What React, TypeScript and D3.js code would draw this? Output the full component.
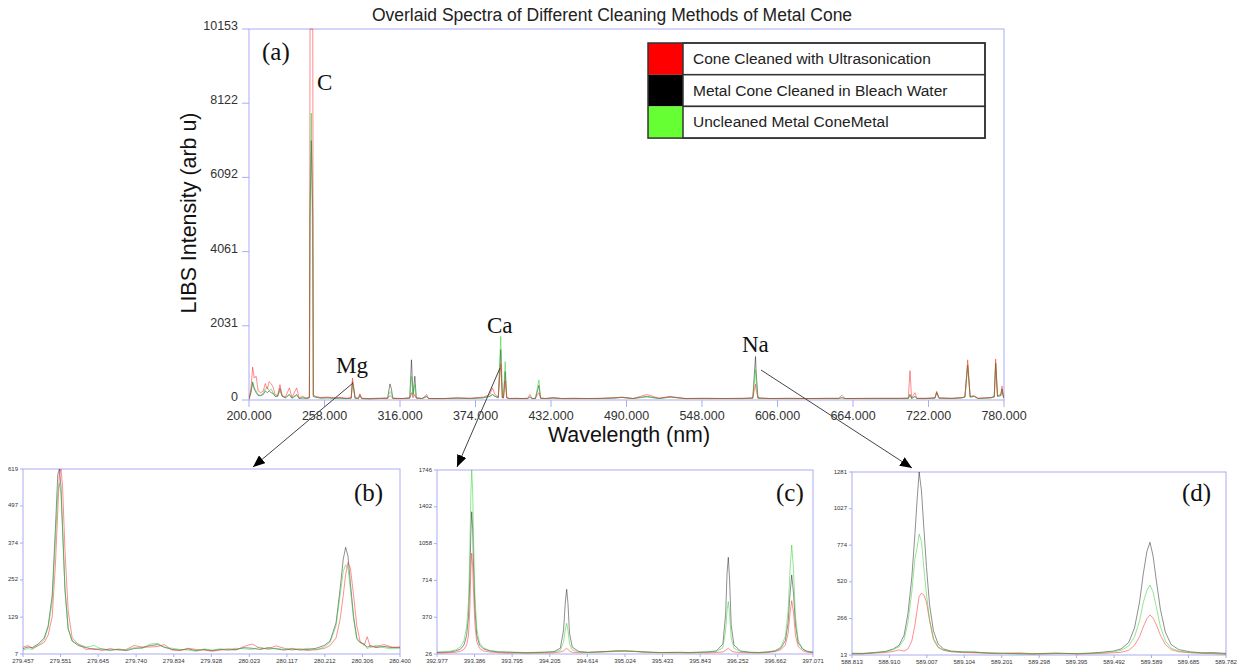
import React from "react";
import * as d3 from "d3";

const W = 1239;
const H = 667;

// ---------- Main spectrum (a) ----------
const mainWavelength = [
  200, 201.5, 202.8, 204, 205.5, 207, 209, 211, 212.5, 214, 215.5, 217, 218.5, 220, 222, 223.8, 225.5, 228, 231, 233,
  236.6, 238.5, 241, 244, 246.4, 246.9, 247.9, 249.0, 249.4, 251, 255, 260, 265, 270, 275, 278.5, 279.5, 280.3, 281.5, 284,
  285.2, 286.5, 292, 300, 306.5, 308.3, 309.3, 310.5, 318, 323.5, 324.8, 326, 327.4, 328.5, 333, 336.5, 338, 350, 360, 370,
  380, 385, 387, 389, 391.5, 393.4, 394.6, 395.5, 396.8, 398, 400, 405, 410, 414, 415.8, 417.5, 420, 422.7, 424, 428,
  433.5, 440, 450, 460, 470, 480, 486.5, 495, 505.6, 515, 523.4, 535, 550, 565, 580, 587, 589.1, 589.6, 591, 600,
  615, 630, 645, 653, 655.5, 658, 680, 700, 706.5, 707.8, 709, 711.6, 713, 720, 727, 728.3, 730, 740, 748, 750,
  752.1, 754, 757, 760, 765, 770, 772.5, 773.6, 775, 777.5, 778.5, 779.3, 780,
];
const mainUltrasonic = [
  30, 300, 900, 600, 650, 250, 200, 250, 450, 300, 500, 450, 350, 150, 120, 420, 120, 80, 330, 70,
  330, 60, 100, 60, 80, 10153, 10153, 10153, 150, 100, 70, 80, 60, 70, 50, 60, 600, 380, 60, 50,
  170, 50, 40, 50, 40, 120, 90, 40, 40, 50, 200, 60, 150, 50, 40, 150, 40, 40, 60, 50,
  80, 150, 330, 150, 80, 990, 70, 60, 520, 60, 40, 50, 40, 50, 150, 40, 50, 200, 50, 40,
  70, 40, 50, 40, 50, 60, 80, 40, 150, 50, 100, 40, 50, 40, 50, 60, 430, 270, 60, 40,
  50, 40, 50, 50, 130, 40, 50, 50, 60, 800, 60, 200, 50, 50, 60, 230, 60, 50, 70, 100,
  1100, 100, 120, 50, 60, 70, 100, 1120, 120, 150, 380, 150, 60,
];
const mainBleach = [
  20, 200, 480, 300, 200, 120, 120, 150, 250, 200, 250, 200, 180, 100, 100, 320, 100, 60, 150, 50,
  150, 40, 60, 40, 60, 5000, 7100, 5000, 100, 80, 50, 60, 50, 50, 40, 50, 500, 360, 50, 40,
  120, 40, 30, 40, 60, 440, 320, 50, 40, 60, 1100, 150, 650, 60, 40, 100, 40, 40, 50, 40,
  60, 100, 150, 100, 60, 1380, 60, 60, 780, 60, 40, 40, 40, 40, 80, 40, 40, 400, 50, 40,
  50, 40, 40, 40, 40, 50, 70, 40, 100, 40, 80, 40, 40, 40, 40, 50, 1190, 780, 50, 40,
  40, 40, 40, 40, 60, 40, 40, 40, 40, 150, 40, 100, 40, 40, 50, 200, 50, 40, 60, 80,
  950, 80, 100, 40, 50, 60, 80, 1000, 100, 120, 300, 120, 50,
];
const mainUncleaned = [
  20, 250, 500, 350, 250, 150, 130, 200, 300, 350, 250, 300, 200, 100, 100, 250, 100, 60, 150, 50,
  120, 40, 50, 40, 60, 5550, 7850, 3370, 100, 80, 60, 60, 50, 50, 40, 50, 450, 300, 50, 40,
  150, 40, 40, 40, 40, 230, 200, 40, 40, 50, 650, 100, 420, 50, 40, 80, 40, 40, 50, 40,
  60, 100, 150, 100, 60, 1740, 60, 60, 1050, 60, 40, 40, 40, 40, 80, 40, 40, 550, 50, 40,
  60, 40, 40, 40, 40, 60, 70, 40, 80, 40, 80, 40, 40, 40, 40, 50, 830, 500, 50, 40,
  40, 40, 40, 40, 70, 40, 40, 40, 40, 150, 40, 100, 40, 40, 60, 230, 50, 40, 60, 80,
  960, 80, 100, 40, 50, 60, 80, 1010, 100, 120, 300, 120, 50,
];
const mainYTicks = [0, 2031, 4061, 6092, 8122, 10153];
const mainXTicks = [200, 258, 316, 374, 432, 490, 548, 606, 664, 722, 780];

// ---------- Mg zoom (b) ----------
const mgWavelength = [
  279.457, 279.47, 279.48, 279.495, 279.51, 279.52, 279.53, 279.538, 279.544, 279.548, 279.552, 279.556, 279.562, 279.57,
  279.58, 279.595, 279.615, 279.635, 279.655, 279.675, 279.695, 279.715, 279.735, 279.755, 279.775, 279.795, 279.81,
  279.83, 279.85, 279.87, 279.89, 279.91, 279.93, 279.95, 279.97, 279.99, 280.01, 280.03, 280.05, 280.07, 280.09, 280.11,
  280.13, 280.15, 280.17, 280.19, 280.21, 280.225, 280.24, 280.25, 280.258, 280.264, 280.27, 280.276, 280.284, 280.292,
  280.3, 280.31, 280.318, 280.326, 280.34, 280.36, 280.38, 280.4,
];
const mgUltrasonic = [
  30, 35, 25, 35, 45, 70, 130, 300, 480, 600, 619, 560, 350, 150, 60, 40, 22, 25, 18, 25, 20, 22, 35, 30, 30, 32, 38,
  20, 18, 26, 22, 20, 16, 20, 24, 20, 32, 40, 26, 24, 34, 26, 20, 24, 18, 22, 25, 35, 60, 120, 200, 270, 310, 290, 200,
  100, 50, 35, 64, 30, 32, 38, 30, 28,
];
const mgBleach = [
  25, 30, 28, 40, 60, 100, 200, 420, 600, 619, 560, 420, 220, 90, 50, 35, 28, 22, 24, 20, 22, 18, 25, 28, 35, 38, 30,
  22, 20, 24, 18, 22, 18, 22, 20, 22, 28, 26, 22, 28, 24, 20, 24, 20, 22, 26, 35, 50, 110, 220, 320, 360, 330, 240, 130,
  60, 45, 40, 30, 35, 28, 32, 28, 30,
];
const mgUncleaned = [
  20, 25, 22, 35, 55, 95, 180, 380, 540, 572, 540, 420, 220, 90, 50, 40, 30, 35, 22, 18, 24, 20, 28, 25, 40, 42, 28,
  26, 22, 20, 16, 24, 20, 24, 22, 26, 24, 22, 30, 22, 26, 22, 26, 22, 26, 20, 30, 45, 100, 200, 280, 302, 290, 220, 120,
  55, 45, 40, 25, 30, 35, 28, 24, 26,
];
const mgYTicks = [7, 129, 252, 374, 497, 619];
const mgXTicks = [279.457, 279.551, 279.645, 279.74, 279.834, 279.928, 280.023, 280.117, 280.212, 280.306, 280.4];

// ---------- Ca zoom (c) ----------
const caWavelength = [
  392.977, 393.05, 393.12, 393.18, 393.23, 393.27, 393.3, 393.32, 393.335, 393.345, 393.355, 393.365, 393.375, 393.39,
  393.41, 393.44, 393.48, 393.55, 393.65, 393.75, 393.85, 393.95, 394.05, 394.15, 394.25, 394.32, 394.355, 394.375,
  394.389, 394.403, 394.42, 394.45, 394.52, 394.62, 394.72, 394.82, 394.92, 395.02, 395.12, 395.22, 395.32, 395.42,
  395.52, 395.62, 395.72, 395.82, 395.92, 396.02, 396.09, 396.12, 396.135, 396.149, 396.163, 396.18, 396.21, 396.28,
  396.38, 396.48, 396.58, 396.66, 396.72, 396.77, 396.8, 396.82, 396.839, 396.858, 396.88, 396.91, 396.96, 397.01,
  397.071,
];
const caUltrasonic = [
  35, 36, 38, 42, 50, 70, 110, 200, 450, 800, 968, 850, 600, 300, 140, 80, 55, 45, 38, 35, 36, 34, 35, 36, 38, 45, 55,
  70, 80, 68, 52, 42, 38, 40, 44, 48, 52, 54, 50, 44, 40, 38, 38, 38, 36, 38, 38, 40, 45, 60, 72, 80, 70, 55, 45, 40,
  38, 36, 40, 48, 65, 110, 220, 400, 524, 420, 200, 95, 55, 42, 38,
];
const caBleach = [
  40, 42, 45, 55, 70, 110, 200, 380, 750, 1150, 1356, 1200, 850, 450, 200, 110, 75, 55, 45, 42, 40, 38, 40, 42, 48, 80,
  250, 520, 631, 500, 220, 90, 50, 42, 45, 50, 55, 55, 52, 46, 42, 40, 40, 42, 40, 42, 45, 55, 120, 400, 780, 930, 720,
  300, 110, 55, 42, 40, 45, 55, 80, 150, 320, 580, 765, 600, 300, 130, 70, 50, 42,
];
const caUncleaned = [
  45, 48, 52, 65, 90, 150, 280, 520, 1000, 1500, 1746, 1550, 1100, 580, 260, 130, 85, 60, 48, 45, 42, 40, 42, 44, 46,
  60, 140, 260, 313, 250, 120, 65, 45, 40, 43, 46, 50, 52, 50, 45, 42, 40, 42, 40, 40, 42, 45, 50, 85, 250, 430, 515,
  400, 180, 80, 50, 42, 40, 45, 58, 90, 190, 430, 800, 1045, 820, 380, 150, 75, 52, 45,
];
const caYTicks = [26, 370, 714, 1058, 1402, 1746];
const caXTicks = [392.977, 393.386, 393.795, 394.205, 394.614, 395.024, 395.433, 395.843, 396.252, 396.662, 397.071];

// ---------- Na zoom (d) ----------
const naWavelength = [
  588.813, 588.84, 588.87, 588.9, 588.92, 588.935, 588.948, 588.958, 588.968, 588.976, 588.982, 588.987, 588.993,
  588.999, 589.006, 589.014, 589.024, 589.036, 589.05, 589.07, 589.1, 589.13, 589.16, 589.19, 589.22, 589.25, 589.28,
  589.31, 589.34, 589.37, 589.4, 589.43, 589.46, 589.49, 589.51, 589.53, 589.545, 589.558, 589.568, 589.577, 589.585,
  589.593, 589.602, 589.612, 589.625, 589.64, 589.66, 589.69, 589.72, 589.75, 589.782,
];
const naUltrasonic = [
  20, 22, 26, 30, 38, 48, 40, 55, 110, 220, 330, 420, 441, 430, 380, 250, 120, 65, 45, 35, 30, 28, 25, 22, 26, 28, 22,
  20, 22, 23, 20, 22, 24, 28, 32, 45, 80, 140, 210, 265, 290, 270, 220, 150, 85, 50, 35, 28, 25, 22, 20,
];
const naBleach = [
  25, 24, 30, 38, 55, 80, 150, 300, 550, 850, 1100, 1281, 1150, 900, 620, 360, 180, 90, 55, 40, 35, 32, 28, 26, 24, 22,
  20, 24, 26, 24, 22, 26, 32, 40, 55, 100, 200, 380, 580, 730, 794, 700, 520, 330, 170, 85, 50, 35, 28, 30, 24,
];
const naUncleaned = [
  22, 20, 28, 35, 50, 70, 120, 240, 450, 680, 760, 851, 800, 620, 430, 260, 130, 70, 48, 38, 32, 36, 27, 25, 22, 20, 21,
  22, 25, 22, 24, 25, 30, 35, 45, 75, 140, 250, 380, 460, 498, 450, 340, 210, 110, 60, 40, 30, 26, 24, 18,
];
const naYTicks = [13, 266, 520, 774, 1027, 1281];
const naXTicks = [588.813, 588.91, 589.007, 589.104, 589.201, 589.298, 589.395, 589.492, 589.589, 589.685, 589.782];

// ---------- Legend ----------
const seriesNames = ["Cone Cleaned with Ultrasonication", "Metal Cone Cleaned in Bleach Water", "Uncleaned Metal ConeMetal"];
const seriesColors = ["#ff0000", "#000000", "#66ff33"];
const lineColors = ["#ff1a1a", "#1a1a1a", "#22cc22"];

const AXIS = "#a9acf2";
const SANS = "'Liberation Sans', Arial, sans-serif";
const SERIF = "'Liberation Serif', 'Times New Roman', serif";

type PanelProps = {
  id: string;
  left: number;
  right: number;
  top: number;
  bottom: number;
  wl: number[];
  series: number[][]; // [red, black, green]
  order: number[];
  yTicks: number[];
  xTicks: number[];
  fontSize: number;
  tickLen: number;
  xFmt: (v: number) => string;
  yLabelGap: number;
  yLabelDy: number;
  xLabelGap: number;
  lineWidth: number;
  lineOpacity: number;
};

function Panel(p: PanelProps) {
  const x = d3.scaleLinear().domain([p.xTicks[0], p.xTicks[p.xTicks.length - 1]]).range([p.left, p.right]);
  const y = d3.scaleLinear().domain([p.yTicks[0], p.yTicks[p.yTicks.length - 1]]).range([p.bottom, p.top]);
  const line = d3
    .line<number>()
    .x((_, i) => x(p.wl[i]))
    .y((v) => y(v));
  return (
    <g>
      <defs>
        <clipPath id={p.id}>
          <rect x={p.left} y={p.top - 1} width={p.right - p.left} height={p.bottom - p.top + 1} />
        </clipPath>
      </defs>
      <rect x={p.left} y={p.top} width={p.right - p.left} height={p.bottom - p.top} fill="none" stroke={AXIS} strokeWidth={1} />
      {p.yTicks.map((t) => (
        <g key={"y" + t}>
          <line x1={p.left - p.tickLen} x2={p.left} y1={y(t)} y2={y(t)} stroke={AXIS} />
          <text
            x={p.left - p.yLabelGap}
            y={y(t) + p.yLabelDy}
            textAnchor="end"
            fontSize={p.fontSize}
            fontFamily={SANS}
            fill="#333"
          >
            {t}
          </text>
        </g>
      ))}
      {p.xTicks.map((t) => (
        <g key={"x" + t}>
          <line x1={x(t)} x2={x(t)} y1={p.bottom} y2={p.bottom + p.tickLen} stroke={AXIS} />
          <text
            x={x(t)}
            y={p.bottom + p.xLabelGap}
            textAnchor="middle"
            fontSize={p.fontSize}
            fontFamily={SANS}
            fill="#333"
          >
            {p.xFmt(t)}
          </text>
        </g>
      ))}
      <g clipPath={`url(#${p.id})`}>
        {p.order.map((si) => (
          <path
            key={si}
            d={line(p.series[si]) || ""}
            fill="none"
            stroke={lineColors[si]}
            strokeWidth={p.lineWidth}
            strokeOpacity={p.lineOpacity}
            strokeLinejoin="round"
          />
        ))}
      </g>
    </g>
  );
}

const f3 = d3.format(".3f");

export default function App() {
  const arrows = [
    { x1: 353, y1: 383, x2: 253, y2: 467 },
    { x1: 500, y1: 368, x2: 457, y2: 467 },
    { x1: 761, y1: 370, x2: 912, y2: 468 },
  ];
  const legendX = 648;
  const legendY = 43;
  const legendW = 337;
  const rowH = 31.7;
  const swW = 35;
  return (
    <svg
      width={W}
      height={H}
      viewBox={`0 0 ${W} ${H}`}
      style={{ position: "absolute", left: 0, top: 0, background: "#fff" }}
    >
      <defs>
        <marker id="arrowHead" viewBox="0 0 12 10" refX="12" refY="5" markerWidth="12" markerHeight="10" markerUnits="userSpaceOnUse" orient="auto">
          <path d="M0,0 L12,5 L0,10 z" fill="#000" />
        </marker>
      </defs>
      <rect x={0} y={0} width={W} height={H} fill="#fff" />

      <text x={612} y={20.5} textAnchor="middle" fontSize={17.5} fontFamily={SANS} fill="#222">
        Overlaid Spectra of Different Cleaning Methods of Metal Cone
      </text>

      <Panel
        id="clipA"
        left={249}
        right={1004}
        top={29}
        bottom={400}
        wl={mainWavelength}
        series={[mainUltrasonic, mainBleach, mainUncleaned]}
        order={[1, 2, 0]}
        yTicks={mainYTicks}
        xTicks={mainXTicks}
        fontSize={12.5}
        tickLen={7}
        xFmt={f3}
        yLabelGap={11}
        yLabelDy={1}
        xLabelGap={20}
        lineWidth={1}
        lineOpacity={0.5}
      />
      <text
        transform="translate(196,213) rotate(-90)"
        textAnchor="middle"
        fontSize={21.4}
        fontFamily={SANS}
        fill="#111"
      >
        LIBS Intensity (arb u)
      </text>
      <text x={629} y={442} textAnchor="middle" fontSize={21.4} fontFamily={SANS} fill="#111">
        Wavelength (nm)
      </text>

      {/* Legend */}
      <g>
        {seriesNames.map((name, i) => (
          <g key={name}>
            <rect x={legendX} y={legendY + i * rowH} width={swW} height={rowH} fill={seriesColors[i]} />
            <rect x={legendX + swW} y={legendY + i * rowH} width={legendW - swW} height={rowH} fill="#fff" stroke="#333" strokeWidth={1.5} />
            <text x={legendX + swW + 10} y={legendY + i * rowH + 21} fontSize={15.5} fontFamily={SANS} fill="#222">
              {name}
            </text>
          </g>
        ))}
        <rect x={legendX} y={legendY} width={legendW} height={rowH * 3} fill="none" stroke="#333" strokeWidth={1.5} />
      </g>

      <Panel
        id="clipB"
        left={23}
        right={400}
        top={469}
        bottom={654}
        wl={mgWavelength}
        series={[mgUltrasonic, mgBleach, mgUncleaned]}
        order={[1, 0, 2]}
        yTicks={mgYTicks}
        xTicks={mgXTicks}
        fontSize={6}
        tickLen={3}
        xFmt={f3}
        yLabelGap={5}
        yLabelDy={1.5}
        xLabelGap={9}
        lineWidth={0.9}
        lineOpacity={0.55}
      />
      <Panel
        id="clipC"
        left={437}
        right={813}
        top={470}
        bottom={654}
        wl={caWavelength}
        series={[caUltrasonic, caBleach, caUncleaned]}
        order={[1, 0, 2]}
        yTicks={caYTicks}
        xTicks={caXTicks}
        fontSize={6}
        tickLen={3}
        xFmt={f3}
        yLabelGap={5}
        yLabelDy={1.5}
        xLabelGap={9}
        lineWidth={0.9}
        lineOpacity={0.55}
      />
      <Panel
        id="clipD"
        left={852}
        right={1226}
        top={472}
        bottom={655}
        wl={naWavelength}
        series={[naUltrasonic, naBleach, naUncleaned]}
        order={[1, 0, 2]}
        yTicks={naYTicks}
        xTicks={naXTicks}
        fontSize={6}
        tickLen={3}
        xFmt={f3}
        yLabelGap={5}
        yLabelDy={1.5}
        xLabelGap={9}
        lineWidth={0.9}
        lineOpacity={0.55}
      />

      {/* Annotation labels */}
      <g fontFamily={SERIF} fill="#111">
        <text x={262} y={60} fontSize={25}>(a)</text>
        <text x={317} y={90} fontSize={23}>C</text>
        <text x={336} y={373} fontSize={23}>Mg</text>
        <text x={487} y={333} fontSize={23}>Ca</text>
        <text x={742} y={352} fontSize={23}>Na</text>
        <text x={354} y={501} fontSize={25}>(b)</text>
        <text x={776} y={501} fontSize={25}>(c)</text>
        <text x={1182} y={501} fontSize={25}>(d)</text>
      </g>

      {arrows.map((a, i) => (
        <line key={i} x1={a.x1} y1={a.y1} x2={a.x2} y2={a.y2} stroke="#444" strokeWidth={1} markerEnd="url(#arrowHead)" />
      ))}
    </svg>
  );
}
